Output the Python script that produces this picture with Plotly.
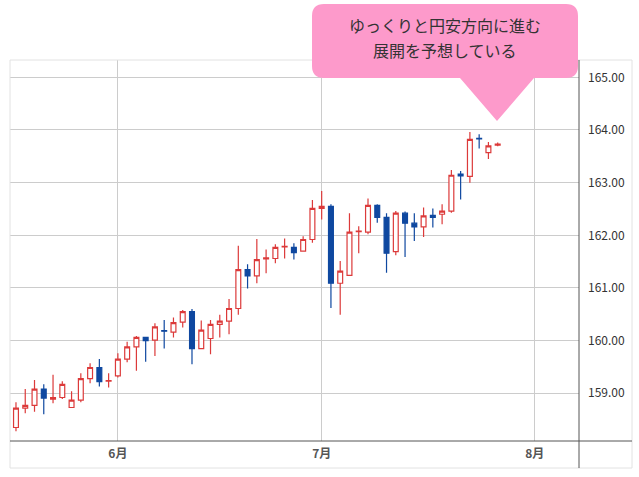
import plotly.graph_objects as go

# ---- data ----
dates = [
    "2026-05-15", "2026-05-18", "2026-05-19", "2026-05-20", "2026-05-21", "2026-05-22",
    "2026-05-25", "2026-05-26", "2026-05-27", "2026-05-28", "2026-05-29",
    "2026-06-01", "2026-06-02", "2026-06-03", "2026-06-04", "2026-06-05",
    "2026-06-08", "2026-06-09", "2026-06-10", "2026-06-11", "2026-06-12",
    "2026-06-15", "2026-06-16", "2026-06-17", "2026-06-18", "2026-06-19",
    "2026-06-22", "2026-06-23", "2026-06-24", "2026-06-25", "2026-06-26",
    "2026-06-29", "2026-06-30",
    "2026-07-01", "2026-07-02", "2026-07-03",
    "2026-07-06", "2026-07-07", "2026-07-08", "2026-07-09", "2026-07-10",
    "2026-07-13", "2026-07-14", "2026-07-15", "2026-07-16", "2026-07-17",
    "2026-07-20", "2026-07-21", "2026-07-22", "2026-07-23", "2026-07-24",
    "2026-07-27", "2026-07-28",
]
open_ = [158.35, 158.72, 158.77, 159.08, 158.89, 158.92, 158.73, 158.87, 159.28, 159.49,
         159.23, 159.33, 159.65, 159.88, 160.06, 160.01, 160.19, 160.16, 160.35, 160.55,
         159.85, 160.04, 160.31, 160.37, 160.61, 161.35, 161.23, 161.55, 161.56, 161.78,
         161.77, 161.70, 161.92, 162.51, 162.55, 161.09, 161.24, 162.07, 162.06, 162.57,
         162.34, 161.69, 162.42, 162.23, 162.16, 162.38, 162.40, 162.46, 163.16, 163.12,
         163.84, 163.57, 163.71]
high = [158.83, 159.08, 159.25, 159.17, 159.35, 159.23, 159.04, 159.38, 159.57, 159.65,
        159.38, 159.76, 159.98, 160.09, 160.07, 160.33, 160.39, 160.44, 160.58, 160.60,
        160.38, 160.39, 160.49, 160.79, 161.80, 161.45, 161.93, 161.73, 161.83, 161.94,
        161.85, 161.98, 162.67, 162.84, 162.59, 161.51, 162.42, 162.17, 162.70, 162.59,
        162.42, 162.46, 162.45, 162.42, 162.53, 162.51, 162.59, 163.24, 163.22, 163.96,
        163.92, 163.77, 163.76]
low = [158.28, 158.62, 158.65, 158.60, 158.81, 158.89, 158.73, 158.83, 159.19, 159.13,
       159.11, 159.30, 159.59, 159.43, 159.60, 159.71, 159.85, 160.06, 160.25, 159.55,
       159.85, 159.74, 160.06, 160.12, 160.49, 160.99, 161.09, 161.28, 161.47, 161.56,
       161.54, 161.70, 161.86, 162.30, 160.62, 160.49, 161.24, 161.66, 162.02, 162.24,
       161.29, 161.62, 161.59, 161.89, 161.97, 162.15, 162.21, 162.43, 162.68, 163.00,
       163.65, 163.45, 163.69]
close = [158.72, 158.77, 159.08, 158.91, 158.92, 159.17, 158.87, 159.28, 159.49, 159.22,
         159.24, 159.65, 159.88, 160.06, 160.00, 160.26, 160.18, 160.34, 160.55, 159.85,
         160.20, 160.31, 160.37, 160.61, 161.35, 161.23, 161.54, 161.57, 161.77, 161.79,
         161.67, 161.92, 162.51, 162.55, 161.09, 161.32, 162.06, 162.08, 162.57, 162.34,
         161.66, 162.42, 162.23, 162.16, 162.37, 162.34, 162.46, 163.14, 163.13, 163.82,
         163.83, 163.70, 163.73]

# first trading day of each month (Aug 1 2026 is a Saturday)
month_ticks = ["2026-06-01", "2026-07-01", "2026-08-03"]
month_labels = ["6月", "7月", "8月"]
price_ticks = [159, 160, 161, 162, 163, 164, 165]
callout_lines = ["ゆっくりと円安方向に進む", "展開を予想している"]

# ---- styling ----
W, H = 639, 477
ML, MR, MT, MB = 10, 60, 60, 36
PW, PH = W - ML - MR, H - MT - MB
RED = "#dc3a3a"
BLUE = "#0f48a0"
PINK = "#fd9acb"
FONT = "Noto Sans CJK JP"


def px(x):
    return (x - ML) / PW


def py(y):
    return (H - MB - y) / PH


fig = go.Figure(go.Candlestick(
    x=dates, open=open_, high=high, low=low, close=close,
    increasing=dict(line=dict(color=RED, width=1.2), fillcolor="white"),
    decreasing=dict(line=dict(color=BLUE, width=1.2), fillcolor=BLUE),
    whiskerwidth=0, showlegend=False, hoverinfo="skip",
))

# callout path (rounded box + pointer)
x0, x1, y0, y1, r = 312, 578, 4, 78, 12
pts = [
    ("M", [(x0 + r, y0)]), ("L", [(x1 - r, y0)]), ("Q", [(x1, y0), (x1, y0 + r)]),
    ("L", [(x1, y1 - r)]), ("Q", [(x1, y1), (x1 - r, y1)]),
    ("L", [(534, y1)]), ("L", [(497, 121)]), ("L", [(460, y1)]),
    ("L", [(x0 + r, y1)]), ("Q", [(x0, y1), (x0, y1 - r)]),
    ("L", [(x0, y0 + r)]), ("Q", [(x0, y0), (x0 + r, y0)]),
]
path = " ".join(cmd + " " + " ".join(f"{px(a):.5f},{py(b):.5f}" for a, b in p) for cmd, p in pts) + " Z"

shapes = [
    dict(type="rect", xref="paper", yref="paper", x0=px(10), x1=px(632), y0=py(468), y1=py(60),
         line=dict(color="#e2e2e2", width=1), layer="above"),
    dict(type="line", xref="paper", yref="paper", x0=px(10), x1=px(632), y0=py(441), y1=py(441),
         line=dict(color="#555555", width=1), layer="above"),
    dict(type="line", xref="paper", yref="paper", x0=px(579), x1=px(579), y0=py(468), y1=py(60),
         line=dict(color="#555555", width=1), layer="above"),
    dict(type="path", xref="paper", yref="paper", path=path, fillcolor=PINK,
         line=dict(width=0), layer="above"),
]

annotations = [
    dict(xref="paper", yref="paper", x=px(445), y=py(25), text=callout_lines[0], showarrow=False,
         font=dict(family=FONT, size=16, color="#333333"), xanchor="center", yanchor="middle"),
    dict(xref="paper", yref="paper", x=px(445), y=py(50), text=callout_lines[1], showarrow=False,
         font=dict(family=FONT, size=16, color="#333333"), xanchor="center", yanchor="middle"),
]

fig.update_layout(
    width=W, height=H,
    margin=dict(l=ML, r=MR, t=MT, b=MB),
    paper_bgcolor="white", plot_bgcolor="white",
    shapes=shapes, annotations=annotations,
    font=dict(family=FONT),
    boxgap=0.25,
    xaxis=dict(
        type="date",
        range=["2026-05-14 08:30", "2026-08-07 18:40"],
        rangebreaks=[dict(bounds=["sat", "mon"])],
        rangeslider=dict(visible=False),
        tickmode="array", tickvals=month_ticks, ticktext=month_labels,
        showgrid=True, gridcolor="#cccccc", gridwidth=1,
        showline=False, zeroline=False, ticks="",
        tickfont=dict(family=FONT, size=12, color="#555555", weight="bold"),
        ticklabelstandoff=4,
    ),
    yaxis=dict(
        side="right",
        range=[158.094, 165.329],
        tickmode="array", tickvals=price_ticks, tickformat=".2f",
        showgrid=True, gridcolor="#cccccc", gridwidth=1,
        showline=False, zeroline=False, ticks="",
        tickfont=dict(family=FONT, size=12, color="#333333"),
        ticklabelstandoff=8,
    ),
)

fig.write_html("out.html")
